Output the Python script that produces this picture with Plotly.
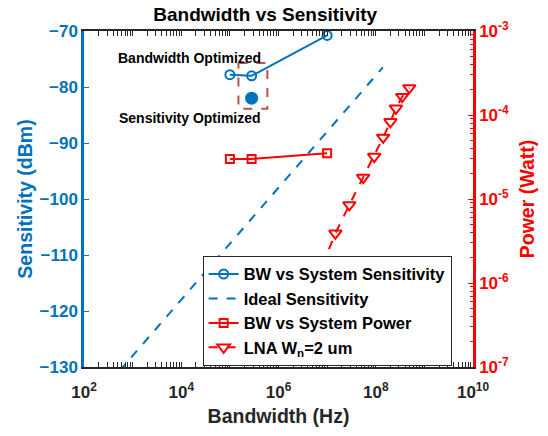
import plotly.graph_objects as go

# ---------------- data ----------------
bw_sys = [1.0e5, 2.8e5, 1.0e7]
sens_sys = [-77.8, -78.0, -70.8]
bw_opt = [2.8e5]
sens_opt = [-82.0]
bw_ideal = [1.0e2, 1.4e8]
sens_ideal = [-138.0, -76.5]
power_sys = [3.0e-5, 3.0e-5, 3.5e-5]
bw_lna = [7.9e6, 1.48e7, 2.86e7, 5.5e7, 9.3e7, 1.42e8, 2.0e8, 2.6e8, 3.5e8, 4.9e8]
power_lna = [1.6e-6, 3.9e-6, 8.5e-6, 1.8e-5, 3.2e-5, 5.4e-5, 8.3e-5, 1.2e-4, 1.65e-4, 2.1e-4]
box_bw = [1.5e5, 5.9e5, 5.9e5, 1.5e5, 1.5e5]
box_sens = [-75.7, -75.7, -83.9, -83.9, -75.7]

xtick_vals = [1e2, 1e4, 1e6, 1e8, 1e10]
xtick_text = ["10<sup>2</sup>", "10<sup>4</sup>", "10<sup>6</sup>", "10<sup>8</sup>", "10<sup>10</sup>"]
ytick_vals = [-130, -120, -110, -100, -90, -80, -70]
y2tick_vals = [1e-7, 1e-6, 1e-5, 1e-4, 1e-3]
y2tick_text = ["10<sup>-7</sup>", "10<sup>-6</sup>", "10<sup>-5</sup>", "10<sup>-4</sup>", "10<sup>-3</sup>"]

BLUE = "#0072BD"
RED = "#FF0000"
FONT = "Liberation Sans, Arial, sans-serif"
DARK = "#262626"

fig = go.Figure()

fig.add_trace(go.Scatter(
    x=box_bw, y=box_sens, mode="lines", showlegend=False, hoverinfo="skip",
    line=dict(color="#C0504D", width=2, dash="dash")))

fig.add_trace(go.Scatter(
    x=bw_sys, y=sens_sys, mode="lines+markers", name="BW vs System Sensitivity",
    line=dict(color=BLUE, width=2),
    marker=dict(symbol="circle-open", size=9, color=BLUE, line=dict(width=2))))

fig.add_trace(go.Scatter(
    x=bw_ideal, y=sens_ideal, mode="lines", name="Ideal Sensitivity",
    line=dict(color=BLUE, width=2, dash="dash")))

fig.add_trace(go.Scatter(
    x=bw_opt, y=sens_opt, mode="markers", showlegend=False,
    marker=dict(symbol="circle", size=13, color=BLUE)))

fig.add_trace(go.Scatter(
    x=bw_sys, y=power_sys, mode="lines+markers", name="BW vs System Power",
    yaxis="y2",
    line=dict(color=RED, width=2),
    marker=dict(symbol="square-open", size=8, color=RED, line=dict(width=2))))

fig.add_trace(go.Scatter(
    x=bw_lna, y=power_lna, mode="lines+markers", name="LNA W<sub>n</sub>=2 um",
    yaxis="y2",
    line=dict(color=RED, width=2, dash="dash"),
    marker=dict(symbol="triangle-down-open", size=11, color=RED, line=dict(width=2))))

fig.add_annotation(x=4.17, y=-74.8, xref="x", yref="y", text="Bandwidth Optimized",
                   showarrow=False, font=dict(family=FONT, size=14, color="black", weight="bold"))
fig.add_annotation(x=4.17, y=-85.6, xref="x", yref="y", text="Sensitivity Optimized",
                   showarrow=False, font=dict(family=FONT, size=14, color="black", weight="bold"))

fig.update_layout(
    width=548, height=436,
    margin=dict(l=84, r=74, t=31, b=67),
    paper_bgcolor="white", plot_bgcolor="white",
    font=dict(family=FONT, weight="bold"),
    title=dict(text="Bandwidth vs Sensitivity", x=0.484, xanchor="center",
               y=0.968, yanchor="middle", yref="container",
               font=dict(family=FONT, size=19, color="black", weight="bold")),
    xaxis=dict(
        type="log", range=[2, 10], tickmode="array", tickvals=xtick_vals, ticktext=xtick_text,
        showgrid=False, zeroline=False, showline=True, linecolor=DARK, linewidth=2,
        mirror="allticks", ticks="inside", ticklen=5, tickwidth=1, tickcolor=DARK,
        ticklabelstandoff=9,
        tickfont=dict(family=FONT, size=17, color=DARK, weight="bold"),
        minor=dict(ticks="inside", ticklen=3, tickcolor=DARK, dtick="D1", showgrid=False),
        title=dict(text="Bandwidth (Hz)", standoff=8,
                   font=dict(family=FONT, size=19.5, color=DARK, weight="bold")),
    ),
    yaxis=dict(
        range=[-130, -70], tickmode="array", tickvals=ytick_vals,
        showgrid=False, zeroline=False, showline=True, linecolor=BLUE, linewidth=2.5,
        ticks="inside", ticklen=5, tickcolor=BLUE,
        tickfont=dict(family=FONT, size=17, color=BLUE, weight="bold"),
        title=dict(text="Sensitivity (dBm)", standoff=2,
                   font=dict(family=FONT, size=19.5, color=BLUE, weight="bold")),
    ),
    yaxis2=dict(
        type="log", range=[-7, -3], overlaying="y", side="right", anchor="x",
        tickmode="array", tickvals=y2tick_vals, ticktext=y2tick_text,
        showgrid=False, zeroline=False, showline=True, linecolor=RED, linewidth=2.5,
        ticks="inside", ticklen=5, tickcolor=RED,
        minor=dict(ticks="inside", ticklen=3, tickcolor=RED, dtick="D1", showgrid=False),
        tickfont=dict(family=FONT, size=17, color=RED, weight="bold"),
        title=dict(text="Power (Watt)", standoff=13,
                   font=dict(family=FONT, size=19.5, color=RED, weight="bold")),
    ),
    legend=dict(x=0.305, y=0.331, xanchor="left", yanchor="top",
                bgcolor="white", bordercolor=DARK, borderwidth=1,
                font=dict(family=FONT, size=16.5, color="black", weight="bold"),
                tracegroupgap=0),
    showlegend=True,
)

fig.write_html("out.html")
